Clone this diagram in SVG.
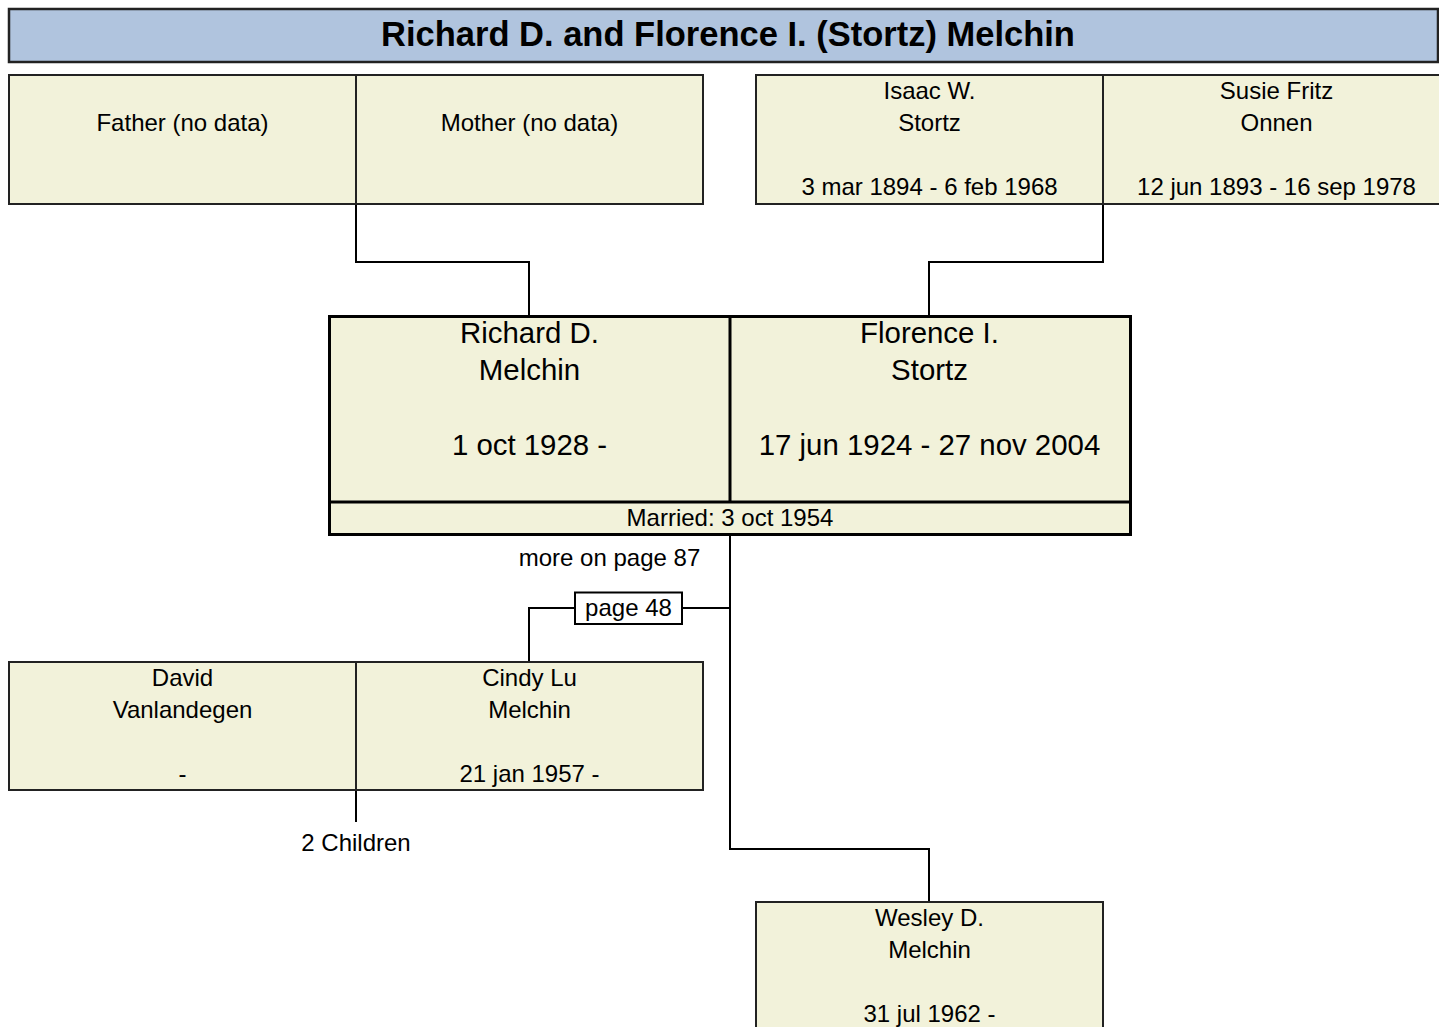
<svg xmlns="http://www.w3.org/2000/svg" width="1439" height="1027" viewBox="0 0 1439 1027">
<style>
text{font-family:"Liberation Sans",Arial,sans-serif;fill:#000;text-anchor:middle}
.box{fill:#F2F2DA;stroke:#222;stroke-width:2}
.main{fill:#F2F2DA;stroke:#000;stroke-width:3}
.s{font-size:24px}
.m{font-size:29.4px}
.t{font-size:34.5px;font-weight:bold}
.conn{fill:none;stroke:#000;stroke-width:2}
</style>
<rect width="1439" height="1027" fill="#fff"/>
<g id="title">
<rect x="9" y="9" width="1429" height="53" fill="#B0C4DE" stroke="#222" stroke-width="2.5"/>
<text class="t" x="728" y="46">Richard D. and Florence I. (Stortz) Melchin</text>
</g>
<g id="connectors">
<polyline class="conn" points="356,204 356,262 529,262 529,316"/>
<polyline class="conn" points="1103,204 1103,262 929,262 929,316"/>
<polyline class="conn" points="730,535 730,849 929,849 929,902"/>
<polyline class="conn" points="730,608 682,608"/>
<polyline class="conn" points="575,608 529,608 529,662"/>
<polyline class="conn" points="356,790 356,822"/>
</g>
<g id="father">
<rect class="box" x="9" y="75" width="347" height="129"/>
<text class="s" x="182.5" y="131">Father (no data)</text>
</g>
<g id="mother">
<rect class="box" x="356" y="75" width="347" height="129"/>
<text class="s" x="529.5" y="131">Mother (no data)</text>
</g>
<g id="isaac">
<rect class="box" x="756" y="75" width="347" height="129"/>
<text class="s" x="929.5" y="99">Isaac W.</text>
<text class="s" x="929.5" y="131">Stortz</text>
<text class="s" x="929.5" y="195">3 mar 1894 - 6 feb 1968</text>
</g>
<g id="susie">
<rect class="box" x="1103" y="75" width="347" height="129"/>
<text class="s" x="1276.5" y="99">Susie Fritz</text>
<text class="s" x="1276.5" y="131">Onnen</text>
<text class="s" x="1276.5" y="195">12 jun 1893 - 16 sep 1978</text>
</g>
<g id="couple">
<rect class="main" x="329.5" y="316.5" width="801" height="218"/>
<line x1="329.5" y1="502" x2="1130.5" y2="502" stroke="#000" stroke-width="3"/>
<line x1="730" y1="316.5" x2="730" y2="502" stroke="#000" stroke-width="3"/>
<text class="m" x="529.5" y="343">Richard D.</text>
<text class="m" x="529.5" y="380">Melchin</text>
<text class="m" x="529.5" y="455">1 oct 1928 -</text>
<text class="m" x="929.5" y="343">Florence I.</text>
<text class="m" x="929.5" y="380">Stortz</text>
<text class="m" x="929.5" y="455">17 jun 1924 - 27 nov 2004</text>
<text class="s" x="730" y="526">Married: 3 oct 1954</text>
</g>
<g id="more">
<text class="s" x="609.5" y="566">more on page 87</text>
</g>
<g id="page48">
<rect x="575" y="592.5" width="107" height="31.5" fill="#fff" stroke="#000" stroke-width="2"/>
<text class="s" x="628.5" y="616">page 48</text>
</g>
<g id="david">
<rect class="box" x="9" y="662" width="347" height="128"/>
<text class="s" x="182.5" y="686">David</text>
<text class="s" x="182.5" y="718">Vanlandegen</text>
<text class="s" x="182.5" y="782">-</text>
</g>
<g id="cindy">
<rect class="box" x="356" y="662" width="347" height="128"/>
<text class="s" x="529.5" y="686">Cindy Lu</text>
<text class="s" x="529.5" y="718">Melchin</text>
<text class="s" x="529.5" y="782">21 jan 1957 -</text>
</g>
<g id="children">
<text class="s" x="356" y="851">2 Children</text>
</g>
<g id="wesley">
<rect class="box" x="756" y="902" width="347" height="140"/>
<text class="s" x="929.5" y="926">Wesley D.</text>
<text class="s" x="929.5" y="958">Melchin</text>
<text class="s" x="929.5" y="1022">31 jul 1962 -</text>
</g>
</svg>
